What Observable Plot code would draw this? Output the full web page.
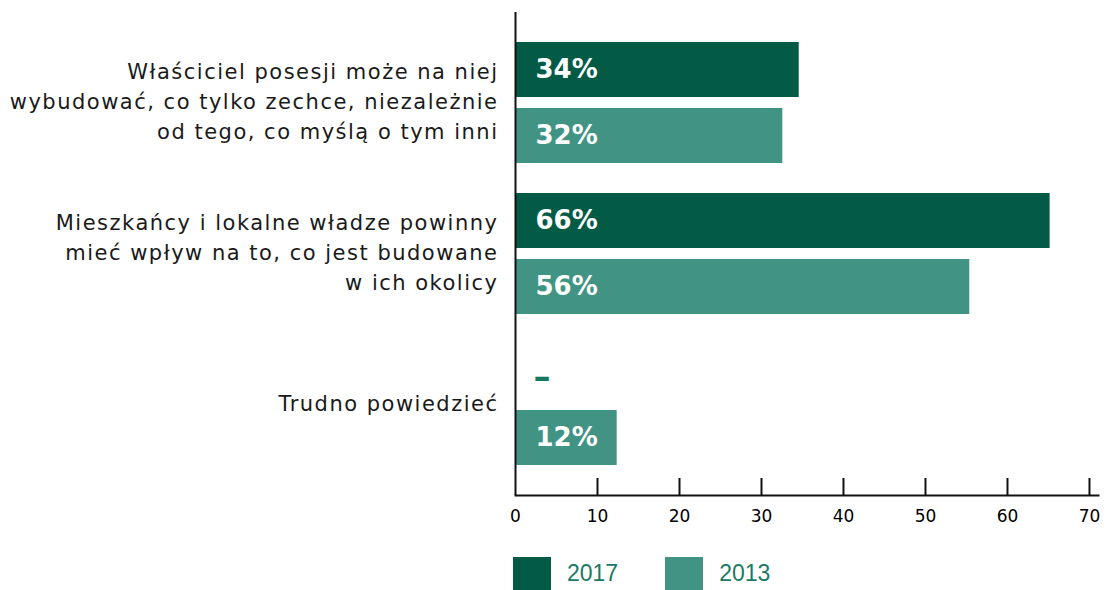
<!DOCTYPE html>
<html><head><meta charset="utf-8">
<script src="https://cdn.jsdelivr.net/npm/d3@7"></script>
<script src="https://cdn.jsdelivr.net/npm/@observablehq/plot@0.6"></script>
<style>
body{margin:0;background:#fff;}
#legend{display:flex;align-items:center;padding-left:513px;margin-top:12px;font-family:"Liberation Sans",sans-serif;font-size:23px;color:#1b7a63;}
#legend .sw{width:38px;height:33px;margin-right:16px;}
#legend .lab{margin-right:47px;}
</style></head><body>
<div id="chart"></div>
<div id="legend"></div>
<script>
const categories = [
  "Właściciel posesji może na niej\nwybudować, co tylko zechce, niezależnie\nod tego, co myślą o tym inni",
  "Mieszkańcy i lokalne władze powinny\nmieć wpływ na to, co jest budowane\nw ich okolicy",
  "Trudno powiedzieć"
];
const years = ["2017", "2013"];
const values2017 = [34.6, 65.2, null];
const values2013 = [32.6, 55.4, 12.4];
const labels2017 = ["34%", "66%", "–"];
const labels2013 = ["32%", "56%", "12%"];
const xTicks = [0, 10, 20, 30, 40, 50, 60, 70];
const yearColors = ["#035b46", "#419483"];

const rows2017 = categories.map((c, i) => ({cat: c, value: values2017[i], label: labels2017[i]}));
const rows2013 = categories.map((c, i) => ({cat: c, value: values2013[i], label: labels2013[i]}));

const font = "DejaVu Sans";
const plot = Plot.plot({
  width: 1110,
  height: 545,
  marginLeft: 515,
  marginRight: 12,
  marginTop: 12,
  marginBottom: 50,
  style: {fontFamily: font, background: "#fff", color: "#000"},
  x: {domain: [0, 71.1], axis: null, label: null},
  y: {domain: categories, paddingInner: 0.2, paddingOuter: 0.19, axis: null},
  marks: [
    Plot.barX(rows2017, {x: "value", y: "cat", fill: yearColors[0], insetBottom: 66}),
    Plot.barX(rows2013, {x: "value", y: "cat", fill: yearColors[1], insetTop: 66}),
    Plot.text(rows2017.filter(d => d.value != null), {y: "cat", text: "label", frameAnchor: "left", dx: 20, dy: -33, textAnchor: "start", fill: "white", fontWeight: "bold", fontSize: 26}),
    Plot.text(rows2017.filter(d => d.value == null), {y: "cat", text: "label", frameAnchor: "left", dx: 18, dy: -28, textAnchor: "start", fill: "#157a5e", fontWeight: "bold", fontSize: 34}),
    Plot.text(rows2013, {y: "cat", text: "label", frameAnchor: "left", dx: 20, dy: 33, textAnchor: "start", fill: "white", fontWeight: "bold", fontSize: 26}),
    Plot.text(rows2017, {y: "cat", text: "cat", frameAnchor: "left", dx: -17, dy: -4, textAnchor: "end", lineHeight: 1.43, fontSize: 21, fill: "#1a1a1a"}),
    Plot.ruleX([0], {stroke: "#111", strokeWidth: 2}),
    Plot.ruleX(xTicks.slice(1), {x: d => d, insetTop: 466, stroke: "#111", strokeWidth: 2}),
    Plot.frame({anchor: "bottom", stroke: "#111", strokeWidth: 2}),
    Plot.axisX(xTicks, {tickSize: 0, tickPadding: 14, fill: "#000", label: null, tickFormat: d => String(d)})
  ]
});
const svg = d3.select(plot);
svg.selectAll('g[text-anchor="end"] text').style("letter-spacing", "1.5px");
const tickStrings = xTicks.map(String);
svg.selectAll("text").filter(function() { return tickStrings.includes(this.textContent); })
  .attr("font-size", 17).style("font-size", "17px");
document.getElementById("chart").appendChild(plot);

const legend = d3.select("#legend");
years.forEach((y, i) => {
  legend.append("div").attr("class", "sw").style("background", yearColors[i]);
  legend.append("div").attr("class", "lab").text(y);
});
</script>
</body></html>
